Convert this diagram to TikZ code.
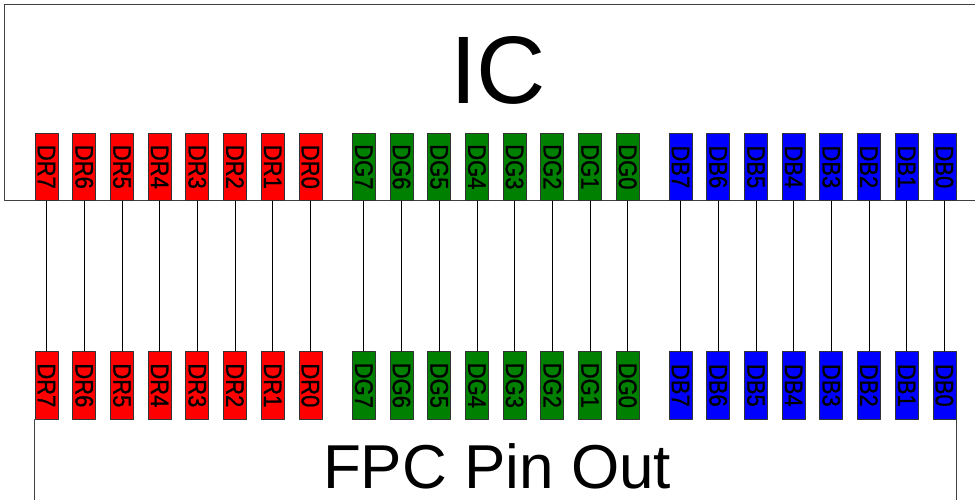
\documentclass[tikz,border=0pt]{standalone}
\usepackage{fontspec}
\setmainfont{Liberation Sans}
\newfontfamily\pinfont[FakeBold=1]{Liberation Sans}
\definecolor{pinred}{RGB}{255,0,0}
\definecolor{pingreen}{RGB}{0,128,0}
\definecolor{pinblue}{RGB}{0,0,255}
\newcommand{\pinlabel}[1]{\rotatebox{-90}{\scalebox{1}[1.15]{#1}}}
\tikzset{
  pinbox/.style={draw=black!80,line width=0.8pt,minimum width=23pt,minimum height=67.7pt,
    inner sep=0pt,font=\pinfont\fontsize{22}{22}\selectfont},
  outline/.style={draw=black!75,line width=1pt},
  wire/.style={draw=black,line width=0.7pt}
}
\begin{document}
\begin{tikzpicture}[line cap=round,line join=round,x=1pt,y=-1pt]
			\clip (0,0) rectangle (975,500);
			\fill[white] (0,0) rectangle (975,500);
			% chip outline and title
			\draw[outline] (4.7,5) rectangle (985,200.7);
			\node[font=\fontsize{96}{96}\selectfont] (ic) at (498,70.4) {IC};
			% pins: top row on the chip, bottom row on the FPC
			\foreach \g/\c/\xo in {R/pinred/46.5,G/pingreen/363.8,B/pinblue/680.5}{
				\foreach \k in {0,...,7}{
					\pgfmathsetmacro{\xx}{\xo+37.7*\k}
					\pgfmathtruncatemacro{\n}{7-\k}
					\node[pinbox,fill=\c] (t\g\n) at (\xx,166.85) {\pinlabel{D\g\n}};
					\node[pinbox,fill=\c] (b\g\n) at (\xx,385.35) {\pinlabel{D\g\n}};
					\draw[wire] (t\g\n.south) -- (b\g\n.north);
				}
			}
			% FPC outline and title
			\draw[outline] (bR7.south west) -- ++(0,100);
			\draw[outline] (bB0.south east) -- ++(0,100);
			\node[font=\fontsize{62}{62}\selectfont] (fpc) at (497,466) {FPC Pin Out};
\end{tikzpicture}
\end{document}
